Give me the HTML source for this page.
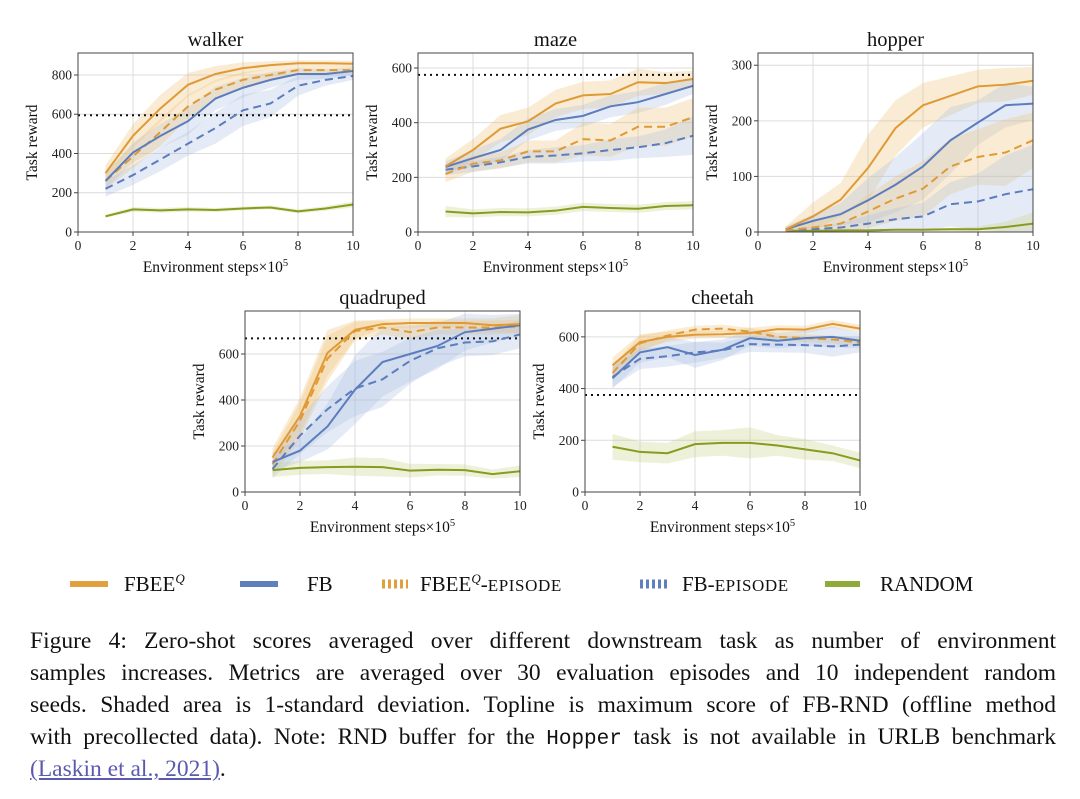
<!DOCTYPE html>
<html><head><meta charset="utf-8">
<style>
body{margin:0;background:#fff;width:1080px;height:799px;overflow:hidden;font-family:"Liberation Serif",serif;}
#wrap{position:relative;width:1080px;height:799px;}
svg{position:absolute;left:0;top:0;}
.cap{position:absolute;left:30px;width:1026px;font-size:23.5px;color:#111;text-align:justify;text-align-last:justify;white-space:nowrap;}
.cap.last{text-align-last:left;}
.mono{font-family:"Liberation Mono",monospace;font-size:21px;}
a{color:#5a5ab0;text-decoration:underline;}
</style></head><body>
<div id="wrap">
<svg id="chart" width="1080" height="600"></svg>
<div class="cap" style="top:628px">Figure 4: Zero-shot scores averaged over different downstream task as number of environment</div>
<div class="cap" style="top:660px">samples increases. Metrics are averaged over 30 evaluation episodes and 10 independent random</div>
<div class="cap" style="top:692px">seeds. Shaded area is 1-standard deviation. Topline is maximum score of FB-RND (offline method</div>
<div class="cap" style="top:724px">with precollected data). Note: RND buffer for the <span class="mono">Hopper</span> task is not available in URLB benchmark</div>
<div class="cap last" style="top:756px"><a>(Laskin et al., 2021)</a>.</div>
</div>
<script>
const steps=[1,2,3,4,5,6,7,8,9,10];
const seriesNames=["FBEE","FB","FBEE-ep","FB-ep","random"];
const walkerMean=[[300,490,630,750,805,835,850,860,860,857],[260,405,490,565,680,735,775,805,805,820],[260,385,510,640,725,775,800,825,825,825],[220,290,370,450,530,620,655,745,775,795],[80,115,110,115,112,120,125,105,120,140]];
const walkerStd=[[40,60,70,60,40,30,20,15,15,15],[40,50,60,70,60,50,40,30,25,20],[40,60,70,60,50,40,30,20,20,20],[40,50,60,60,80,80,70,50,30,20],[8,12,12,12,10,10,10,10,12,15]];
const mazeMean=[[240,300,378,405,470,500,505,548,545,560],[238,270,300,375,410,425,460,475,505,535],[212,250,262,295,295,340,335,385,385,420],[228,240,255,275,280,288,300,310,325,352],[75,68,73,72,78,92,88,85,95,98]];
const mazeStd=[[30,40,50,50,50,50,50,50,40,30],[20,30,40,40,40,40,40,40,40,30],[30,30,30,40,40,60,60,70,70,70],[20,20,20,25,30,30,40,40,50,70],[20,15,15,15,15,15,15,15,15,15]];
const hopperMean=[[5,28,58,115,187,228,245,262,265,272],[5,20,32,57,85,118,165,197,228,231],[3,8,15,37,60,78,118,135,143,165],[2,5,8,15,23,28,50,55,68,77],[2,2,3,3,4,4,5,5,9,15]];
const hopperStd=[[5,25,30,60,50,40,35,30,30,25],[5,12,20,40,50,60,60,40,40,30],[3,10,15,30,40,50,50,50,60,50],[2,5,8,15,20,25,40,50,70,80],[2,2,2,2,2,2,3,5,10,20]];
const quadMean=[[150,330,605,705,730,735,735,735,725,730],[130,180,285,445,565,600,635,695,710,725],[120,310,580,700,715,695,715,715,715,720],[100,245,360,450,490,570,625,650,655,685],[95,105,108,110,108,93,97,95,78,90]];
const quadStd=[[40,80,100,40,20,20,20,20,30,40],[40,50,100,150,150,120,100,80,60,50],[50,80,100,40,30,30,30,30,30,30],[40,80,100,120,120,100,80,60,60,60],[30,30,30,40,40,30,25,25,20,25]];
const cheetahMean=[[490,580,600,608,610,615,630,628,650,632],[440,540,560,530,550,595,585,595,600,585],[460,575,605,628,632,620,600,595,590,578],[445,515,525,540,548,572,570,568,563,570],[175,155,150,185,190,190,180,165,150,122]];
const cheetahStd=[[30,30,20,15,15,20,15,15,15,15],[40,40,40,50,40,30,30,30,40,30],[30,30,20,15,15,15,15,15,15,15],[40,40,40,40,30,30,30,30,40,30],[50,40,40,50,50,60,40,40,30,30]];
const xTicks=[0,2,4,6,8,10];
const walkerTicks=[0,200,400,600,800];
const mazeTicks=[0,200,400,600];
const hopperTicks=[0,100,200,300];
const quadTicks=[0,200,400,600];
const cheetahTicks=[0,200,400,600];
const toplines={walker:595,maze:575,hopper:null,quadruped:668,cheetah:375};

const lineCol=["#e09a35","#5b7dbd","#e09a35","#5b7dbd","#8a9a1e"];
const fillCol=["#f0c070","#a8bce0","#f0c070","#a8bce0","#c8cf80"];
const dash=[null,null,"8,5","8,5",null];
const NS="http://www.w3.org/2000/svg";
const svg=document.getElementById('chart');
function mk(tag,attrs,parent){const e=document.createElementNS(NS,tag);for(const k in attrs)e.setAttribute(k,attrs[k]);(parent||svg).appendChild(e);return e;}

function panel(name,L,T,R,B,ymax,ticks,mean,std){
  const g=mk('g',{});
  
  
  const sx=v=>L+(v/10)*(R-L);
  const sy=v=>B-(v/ymax)*(B-T);
  xTicks.forEach(t=>{const l=mk('line',{x1:sx(t),x2:sx(t),y1:T,y2:B,stroke:'#dcdcdc','stroke-width':1},g);
    });
  ticks.forEach(t=>{const l=mk('line',{x1:L,x2:R,y1:sy(t),y2:sy(t),stroke:'#dcdcdc','stroke-width':1},g);
    });
  for(let s=0;s<5;s++){
    let pts=steps.map((x,i)=>sx(x)+','+sy(Math.max(0,mean[s][i]+std[s][i])));
    let low=steps.map((x,i)=>sx(x)+','+sy(Math.max(0,mean[s][i]-std[s][i]))).reverse();
    const p=mk('polygon',{points:pts.concat(low).join(' '),fill:fillCol[s],'fill-opacity':0.3,stroke:'none'},g);
    
  }
  const tl=toplines[name];
  if(tl!=null){const l=mk('line',{x1:L,x2:R,y1:sy(tl),y2:sy(tl),stroke:'#111','stroke-width':2,'stroke-dasharray':'2,4'},g);
    }
  [4,3,2,1,0].forEach(s=>{
    const a={points:steps.map((x,i)=>sx(x)+','+sy(mean[s][i])).join(' '),fill:'none',stroke:lineCol[s],'stroke-width':2};
    if(dash[s])a['stroke-dasharray']=dash[s];
    const p=mk('polyline',a,g);
    
  });
  const fr=mk('rect',{x:L,y:T,width:R-L,height:B-T,fill:'none',stroke:'#444','stroke-width':1},g);
  
  xTicks.forEach(t=>{mk('line',{x1:sx(t),x2:sx(t),y1:B,y2:B+4,stroke:'#444'},g);
    const tx=mk('text',{x:sx(t),y:B+18,'text-anchor':'middle','font-size':13.5,fill:'#222'},g);tx.textContent=t;
    });
  ticks.forEach(t=>{mk('line',{x1:L-4,x2:L,y1:sy(t),y2:sy(t),stroke:'#444'},g);
    const tx=mk('text',{x:L-6,y:sy(t)+4.5,'text-anchor':'end','font-size':13.5,fill:'#222'},g);tx.textContent=t;
    });
  const ti=mk('text',{x:(L+R)/2,y:T-7,'text-anchor':'middle','font-size':20.5,fill:'#111'},g);ti.textContent=name;
  
  const xl=mk('text',{x:(L+R)/2,y:B+40,'text-anchor':'middle','font-size':15.5,fill:'#111'},g);
  xl.innerHTML='Environment steps\u00d710<tspan dy="-6" font-size="10.5">5</tspan>';
  
  const yl=mk('text',{x:0,y:0,'text-anchor':'middle','font-size':15.5,fill:'#111',transform:`translate(${L-41},${(T+B)/2}) rotate(-90)`},g);
  yl.textContent='Task reward';
  
}
panel('walker',78,53,353,232,912,walkerTicks,walkerMean,walkerStd);
panel('maze',418,53,693,232,655,mazeTicks,mazeMean,mazeStd);
panel('hopper',758,53,1033,232,322,hopperTicks,hopperMean,hopperStd);
panel('quadruped',245,311,520,492,787,quadTicks,quadMean,quadStd);
panel('cheetah',585,311,860,492,700,cheetahTicks,cheetahMean,cheetahStd);

const leg=[{x1:70,x2:108,tx:124,c:'#e0a040',d:null,html:'FBEE<tspan dy="-8" font-size="13" font-style="italic">Q</tspan>'},
{x1:240,x2:278,tx:307,c:'#6080bb',d:null,html:'FB'},
{x1:382,x2:408,tx:420,c:'#e0a040',d:'3,3',html:'FBEE<tspan dy="-8" font-size="13" font-style="italic">Q</tspan><tspan dy="8">-</tspan><tspan font-size="17" letter-spacing="0.6">EPISODE</tspan>'},
{x1:640,x2:668,tx:682,c:'#6080bb',d:'3,3',html:'FB-<tspan font-size="17" letter-spacing="0.6">EPISODE</tspan>'},
{x1:825,x2:860,tx:880,c:'#8faa3a',d:null,html:'RANDOM'}];
leg.forEach(e=>{
  const g=mk('g',{});
  
  
  const a={x1:e.x1,x2:e.x2,y1:584,y2:584,stroke:e.c,'stroke-width':e.d?9:6};
  if(e.d)a['stroke-dasharray']=e.d;
  mk('line',a,g);
  const t=mk('text',{x:e.tx,y:591,'font-size':21,fill:'#111'},g);t.innerHTML=e.html;
});
</script>
</body></html>
